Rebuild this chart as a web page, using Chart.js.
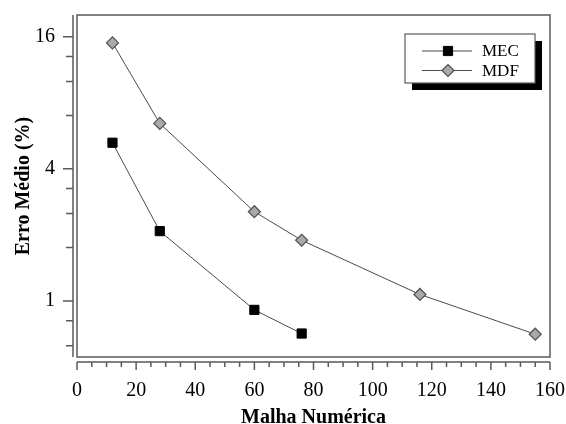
<!DOCTYPE html>
<html>
<head>
<meta charset="utf-8">
<script src="https://cdn.jsdelivr.net/npm/chart.js@4"></script>
<style>
  html, body { margin: 0; padding: 0; background: #fff; }
  #wrap { width: 566px; height: 424px; }
</style>
</head>
<body>
<div id="wrap"><canvas id="chart" width="566" height="424"></canvas></div>
<script>
// data
const malha = [12, 28, 60, 76, 116, 155];
const erroMEC = [5.26, 2.08, 0.91, 0.71];
const erroMDF = [15.0, 6.44, 2.55, 1.89, 1.07, 0.705];
const seriesNames = ['MEC', 'MDF'];
const xMajorTicks = [0, 20, 40, 60, 80, 100, 120, 140, 160];
const yMajorTicks = [1, 4, 16];
const yMinorTicks = [0.625, 0.8125, 1.75, 2.5, 3.25, 7, 10, 13];

const serif = "'Liberation Serif', 'Times New Roman', serif";
const frameColor = '#5a5a5a';

// frame, detached axes with major/minor ticks, legend with shadow
const framePlugin = {
    id: 'frame',
    afterDraw(chart) {
        const ctx = chart.ctx;
        const a = chart.chartArea;
        const xs = chart.scales.x, ys = chart.scales.y;
        ctx.save();
        ctx.strokeStyle = frameColor;
        ctx.lineWidth = 1.5;
        ctx.strokeRect(a.left, a.top, a.right - a.left, a.bottom - a.top);

        // x axis below the box
        const ax = a.bottom + 5;
        ctx.beginPath();
        ctx.moveTo(a.left, ax);
        ctx.lineTo(a.right, ax);
        xs.ticks.forEach(t => {
            const px = xs.getPixelForValue(t.value);
            const len = xMajorTicks.includes(t.value) ? 8 : 5;
            ctx.moveTo(px, ax);
            ctx.lineTo(px, ax + len);
        });
        ctx.stroke();

        // y axis left of the box
        const ay = a.left - 4;
        ctx.beginPath();
        ctx.moveTo(ay, a.top);
        ctx.lineTo(ay, a.bottom);
        ys.ticks.forEach(t => {
            const py = ys.getPixelForValue(t.value);
            const len = yMajorTicks.includes(t.value) ? 10 : 7;
            ctx.moveTo(ay, py);
            ctx.lineTo(ay - len, py);
        });
        ctx.stroke();

        // legend
        const lx = 405, ly = 34, lw = 130, lh = 49;
        ctx.fillStyle = '#000';
        ctx.fillRect(lx + 7, ly + 7, lw, lh);
        ctx.fillStyle = '#fff';
        ctx.fillRect(lx, ly, lw, lh);
        ctx.strokeStyle = frameColor;
        ctx.lineWidth = 1.2;
        ctx.strokeRect(lx, ly, lw, lh);
        ctx.font = '17px ' + serif;
        ctx.textBaseline = 'middle';
        chart.data.datasets.forEach((ds, i) => {
            const y = ly + 17 + i * 19.5;
            ctx.strokeStyle = ds.borderColor;
            ctx.lineWidth = 1;
            ctx.beginPath();
            ctx.moveTo(lx + 17, y);
            ctx.lineTo(lx + 67, y);
            ctx.stroke();
            ctx.fillStyle = ds.pointBackgroundColor;
            ctx.strokeStyle = ds.pointBorderColor;
            ctx.lineWidth = ds.pointBorderWidth;
            Chart.helpers.drawPoint(ctx, {
                pointStyle: ds.pointStyle,
                radius: ds.pointRadius,
                borderWidth: ds.pointBorderWidth
            }, lx + 43, y);
            ctx.fillStyle = '#000';
            ctx.fillText(ds.label, lx + 77, y + 1);
        });
        ctx.restore();
    }
};

new Chart(document.getElementById('chart'), {
    type: 'line',
    data: {
        datasets: [
            {
                label: seriesNames[0],
                data: malha.slice(0, erroMEC.length).map((x, i) => ({ x: x, y: erroMEC[i] })),
                borderColor: '#4a4a4a',
                borderWidth: 1,
                pointStyle: 'rect',
                pointRadius: 6.5,
                pointHoverRadius: 6.5,
                pointBackgroundColor: '#000',
                pointBorderColor: '#000',
                pointBorderWidth: 1,
                tension: 0
            },
            {
                label: seriesNames[1],
                data: malha.map((x, i) => ({ x: x, y: erroMDF[i] })),
                borderColor: '#4a4a4a',
                borderWidth: 1,
                pointStyle: 'rectRot',
                pointRadius: 6,
                pointHoverRadius: 6,
                pointBackgroundColor: '#a9a9a9',
                pointBorderColor: '#505050',
                pointBorderWidth: 1.2,
                tension: 0
            }
        ]
    },
    options: {
        responsive: false,
        animation: false,
        layout: { padding: { top: 15, right: 16, left: 0, bottom: 0 } },
        plugins: {
            legend: { display: false },
            tooltip: { enabled: false }
        },
        scales: {
            x: {
                type: 'linear',
                min: 0,
                max: 160,
                grid: { display: false, drawTicks: false },
                border: { display: false },
                afterFit(scale) {
                    scale.height = 67;
                    scale.paddingLeft = 0;
                    scale.paddingRight = 0;
                },
                ticks: {
                    stepSize: 5,
                    autoSkip: false,
                    maxRotation: 0,
                    padding: 22,
                    color: '#000',
                    font: { family: serif, size: 20 },
                    callback: v => xMajorTicks.includes(v) ? String(v) : ''
                },
                title: {
                    display: true,
                    text: 'Malha Numérica',
                    color: '#000',
                    padding: 0,
                    font: { family: serif, size: 20, weight: 'bold', lineHeight: 0.6 }
                }
            },
            y: {
                type: 'logarithmic',
                min: 0.555,
                max: 20.1,
                grid: { display: false, drawTicks: false },
                border: { display: false },
                afterFit(scale) {
                    scale.width = 77;
                    scale.paddingTop = 0;
                    scale.paddingBottom = 0;
                },
                afterBuildTicks(scale) {
                    scale.ticks = yMajorTicks.concat(yMinorTicks)
                        .sort((p, q) => p - q)
                        .map(v => ({ value: v, major: yMajorTicks.includes(v) }));
                },
                ticks: {
                    padding: 22,
                    color: '#000',
                    font: { family: serif, size: 20 },
                    callback: v => yMajorTicks.includes(v) ? String(v) : ''
                },
                title: {
                    display: true,
                    text: 'Erro Médio (%)',
                    color: '#000',
                    padding: { top: 12, bottom: 0 },
                    font: { family: serif, size: 20, weight: 'bold', lineHeight: 1.2 }
                }
            }
        }
    },
    plugins: [framePlugin]
});
</script>
</body>
</html>
